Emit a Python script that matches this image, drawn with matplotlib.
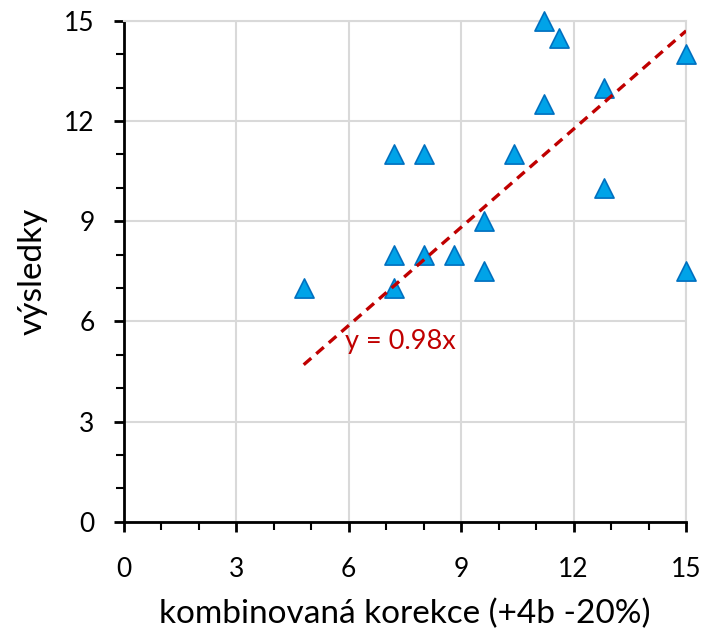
import matplotlib.pyplot as plt
import numpy as np

plt.rcParams['font.family'] = ['Lato', 'DejaVu Sans']

# korekce vs. výsledky
x = [4.8, 7.2, 8.0, 7.2, 7.2, 8.0, 8.8, 9.6, 9.6, 10.4, 11.2, 11.2, 11.6, 12.8, 12.8, 15.0, 15.0]
y = [7.0, 11.0, 11.0, 8.0, 7.0, 8.0, 8.0, 9.0, 7.5, 11.0, 15.0, 12.5, 14.5, 13.0, 10.0, 14.0, 7.5]
slope = 0.98

fig = plt.figure(figsize=(7.03, 6.31), dpi=100)
ax = fig.add_axes([0.176, 0.173, 0.800, 0.794])

ax.scatter(x, y, marker='^', s=190, color='#00A3E8', edgecolor='#0070C0',
           linewidth=1.2, zorder=3, clip_on=False)

# trend přes počátek
xt = np.array([min(x), max(x)])
ax.plot(xt, slope * xt, color='#C00000', lw=2.4, ls=(0, (3, 2)), zorder=4)
ax.text(5.9, 5.4, 'y = %.2fx' % slope, color='#C00000', fontsize=19.5,
        va='center', ha='left', zorder=5)

ax.set_xlim(0, 15)
ax.set_ylim(0, 15)
ax.set_xticks(np.arange(0, 16, 3))
ax.set_yticks(np.arange(0, 16, 3))
ax.set_xticks(np.arange(0, 16, 1), minor=True)
ax.set_yticks(np.arange(0, 16, 1), minor=True)
ax.grid(True, which='major', color='#D9D9D9', lw=1.5)
ax.set_axisbelow(True)

for s in ['top', 'right']:
    ax.spines[s].set_color('#D9D9D9')
    ax.spines[s].set_linewidth(1.5)
for s in ['left', 'bottom']:
    ax.spines[s].set_color('black')
    ax.spines[s].set_linewidth(2)

ax.tick_params(which='major', direction='out', length=7, width=2, labelsize=19)
ax.tick_params(axis='x', which='major', pad=18)
ax.tick_params(axis='y', which='major', pad=14)
ax.tick_params(which='minor', direction='out', length=6, width=1.5)

ax.set_xlabel('kombinovaná korekce (+4b -20%)', fontsize=24, labelpad=12)
ax.set_ylabel('výsledky', fontsize=24, labelpad=12)

fig.savefig('out.png', dpi=100)
